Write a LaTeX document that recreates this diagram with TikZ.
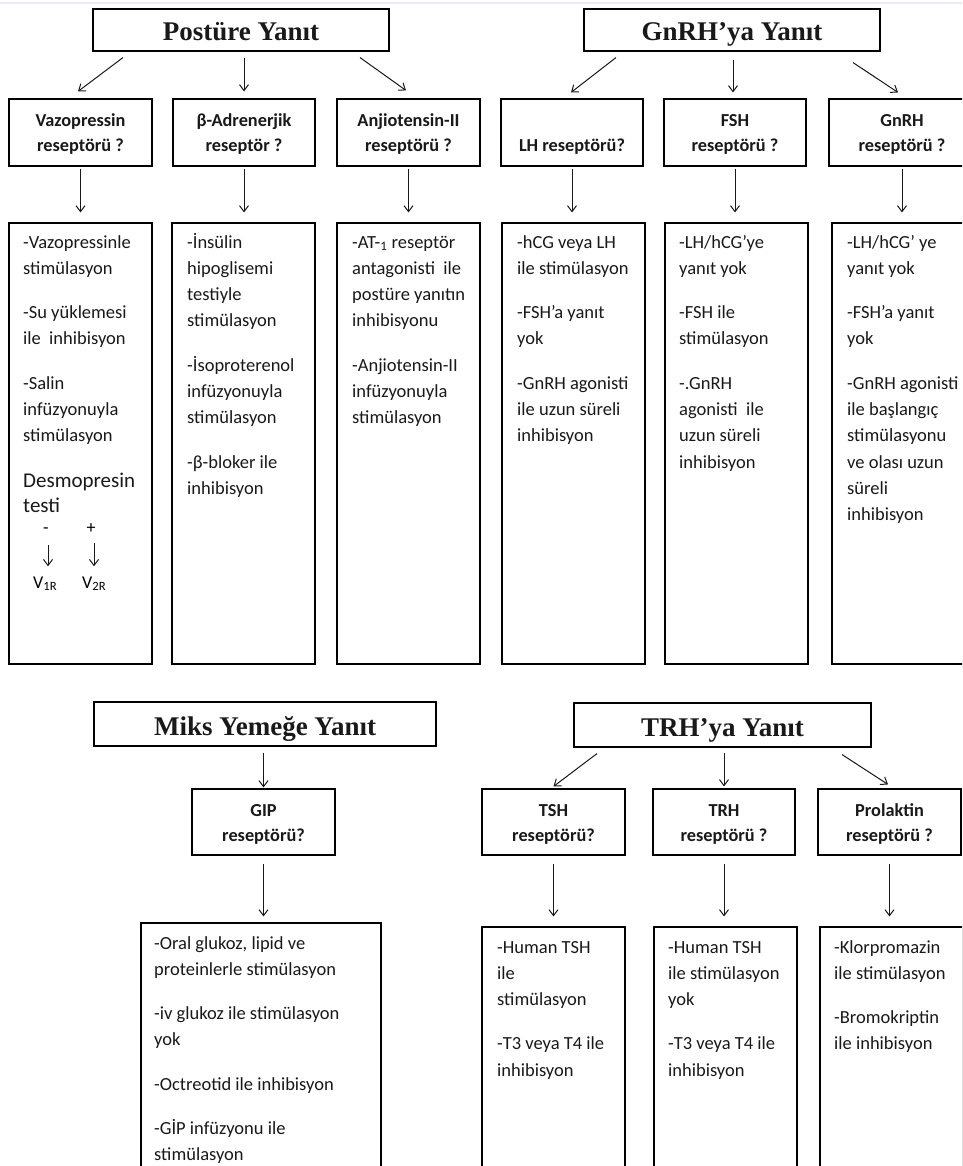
\documentclass[tikz,border=0pt]{standalone}
\usepackage{fontspec}
\setmainfont{Carlito}
\newfontfamily\tnr{Liberation Serif}
\usetikzlibrary{arrows.meta}
\begin{document}
\begin{tikzpicture}[x=1pt,y=-1pt,
  box/.style={draw=black, line width=1.1pt, inner sep=0pt, text=black!90},
  title/.style={box, font=\tnr\bfseries\fontsize{27}{30}\selectfont, text height=22pt, text depth=0pt},
  rec/.style={box, align=center, font=\bfseries\fontsize{18.3}{25}\selectfont, minimum width=143pt, minimum height=67pt},
  recb/.style={rec, minimum height=66pt},
  cbox/.style={box, minimum width=143pt},
  ctext/.style={anchor=base west, inner sep=0pt, text=black!90, font=\fontsize{18.5}{26.3}\selectfont},
  arr/.style={line width=1pt, draw=black!90, -{Straight Barb[length=6pt,width=9pt]}}
]
\useasboundingbox (0,0) rectangle (962,1166);
\clip (0,0) rectangle (962,1166);
\fill[white] (0,0) rectangle (962,1166);
\draw[line width=1.5pt, draw=black!15!blue!8!white] (0,3) -- (962,3);

% titles
\node[title, minimum width=296pt, minimum height=42pt] (post) at (241,30) {Postüre Yanıt};
\node[title, minimum width=296pt, minimum height=42pt] (gnrh) at (732,30) {GnRH’ya Yanıt};
\node[title, minimum width=342pt, minimum height=44pt] (miks) at (265,724) {Miks Yemeğe Yanıt};
\node[title, minimum width=297pt, minimum height=44pt] (trh) at (722.5,725) {TRH’ya Yanıt};

% receptor boxes (top)
\node[rec] (vaz) at (80.5,132.5) {\rule{0pt}{18pt}Vazopressin\\reseptörü ?\rule[-4pt]{0pt}{4pt}};
\node[rec, minimum width=142pt] (beta) at (244,132.5) {\rule{0pt}{18pt}β-Adrenerjik\\reseptör ?\rule[-4pt]{0pt}{4pt}};
\node[rec] (anj) at (408.5,132.5) {\rule{0pt}{18pt}Anjiotensin-II\\reseptörü ?\rule[-4pt]{0pt}{4pt}};
\node[rec, minimum width=142pt] (lh) at (572,132.5) {\rule{0pt}{18pt}\\LH reseptörü?\rule[-4pt]{0pt}{4pt}};
\node[rec, minimum width=142pt] (fsh) at (735,132.5) {\rule{0pt}{18pt}FSH\\reseptörü ?\rule[-4pt]{0pt}{4pt}};
\node[rec, minimum width=146pt] (gnr) at (902,132.5) {\rule{0pt}{18pt}GnRH\\reseptörü ?\rule[-4pt]{0pt}{4pt}};

% receptor boxes (bottom)
\node[recb] (gip) at (263.5,822) {\rule{0pt}{18pt}GIP\\reseptörü?\rule[-4pt]{0pt}{4pt}};
\node[recb] (tsh) at (553.5,822) {\rule{0pt}{18pt}TSH\\reseptörü?\rule[-4pt]{0pt}{4pt}};
\node[recb, minimum width=142pt] (trhr) at (724,822) {\rule{0pt}{18pt}TRH\\reseptörü ?\rule[-4pt]{0pt}{4pt}};
\node[recb] (prl) at (889.5,822) {\rule{0pt}{18pt}Prolaktin\\reseptörü ?\rule[-4pt]{0pt}{4pt}};

% content boxes
\node[cbox, minimum height=441pt] (c1) at (80.5,443.5) {};
\node[cbox, minimum height=441pt] (c2) at (243.5,443.5) {};
\node[cbox, minimum height=441pt] (c3) at (408.5,443.5) {};
\node[cbox, minimum height=441pt] (c4) at (573.5,443.5) {};
\node[cbox, minimum height=441pt] (c5) at (736.5,443.5) {};
\node[cbox, minimum height=441pt] (c6) at (903.5,443.5) {};
\node[cbox, minimum width=240pt, minimum height=267pt] (gipc) at (261,1056.5) {};
\node[cbox, minimum height=263pt] (tshc) at (553.5,1058.5) {};
\node[cbox, minimum height=263pt] (trhc) at (725.5,1058.5) {};
\node[cbox, minimum height=263pt] (prlc) at (891.5,1058.5) {};

% arrows top
\draw[arr] ([xshift=-118pt,yshift=-6pt]post.south) -- ([xshift=-2.5pt,yshift=7pt]vaz.north);
\draw[arr] ([xshift=3pt,yshift=-6pt]post.south) -- ([yshift=7pt]beta.north);
\draw[arr] ([xshift=119pt,yshift=-6pt]post.south) -- ([xshift=-2.5pt,yshift=8pt]anj.north);
\draw[arr] ([xshift=-116pt,yshift=-6pt]gnrh.south) -- ([xshift=-1pt,yshift=6pt]lh.north);
\draw[arr] ([xshift=1pt,yshift=-8pt]gnrh.south) -- ([xshift=-2pt,yshift=6pt]fsh.north);
\draw[arr] ([xshift=121pt,yshift=-11pt]gnrh.south) -- ([xshift=-4pt,yshift=6pt]gnr.north);
\foreach \r/\c in {vaz/c1, beta/c2, anj/c3, lh/c4, fsh/c5, gnr/c6}
  \draw[arr, shorten <=2pt, shorten >=10pt] (\r.south) -- (\r.south |- \c.north);

% arrows bottom
\draw[arr, shorten <=6pt, shorten >=1pt] (miks.south -| gip.north) -- (gip.north);
\draw[arr, shorten <=8pt, shorten >=6pt] (gip.south) -- (gip.south |- gipc.north);
\draw[arr] ([xshift=-125.5pt,yshift=-6pt]trh.south) -- ([yshift=2pt]tsh.north);
\draw[arr, shorten <=5pt, shorten >=2pt] (trh.south -| trhr.north) -- (trhr.north);
\draw[arr] ([xshift=119.5pt,yshift=-7pt]trh.south) -- ([xshift=-1.5pt,yshift=4pt]prl.north);
\foreach \r/\c in {tsh/tshc, trhr/trhc, prl/prlc}
  \draw[arr, shorten <=8pt, shorten >=10pt] (\r.south) -- (\r.south |- \c.north);

% content texts
\node[ctext] (t1) at (23,248) {\parbox[t]{200pt}{\raggedright -Vazopressinle\\stimülasyon\\[18pt]-Su yüklemesi\\ile\ \ inhibisyon\\[18pt]-Salin\\infüzyonuyla\\stimülasyon}};
\node[ctext, font=\fontsize{21}{25}\selectfont] (desm) at (23,487) {\parbox[t]{200pt}{\raggedright Desmopresin\\testi}};
\node[anchor=base, inner sep=0pt, font=\fontsize{18}{20}\selectfont] (minus) at (46,533) {-};
\node[anchor=base, inner sep=0pt, font=\fontsize{18}{20}\selectfont] (plus) at (91,533) {+};
\node[anchor=base west, inner sep=0pt, font=\fontsize{18}{20}\selectfont] (v1) at (33,588) {V\textsubscript{1R}};
\node[anchor=base west, inner sep=0pt, font=\fontsize{18}{20}\selectfont] (v2) at (82,588) {V\textsubscript{2R}};
\draw[arr, shorten <=12pt, shorten >=10pt] ([xshift=2pt]minus.south) -- ([xshift=2pt]minus.south |- v1.north);
\draw[arr, shorten <=10pt, shorten >=10pt] ([xshift=3pt]plus.south) -- ([xshift=3pt]plus.south |- v2.north);

\node[ctext] (t2) at (187,248) {\parbox[t]{200pt}{\raggedright -İnsülin\\hipoglisemi\\testiyle\\stimülasyon\\[18pt]-İsoproterenol\\infüzyonuyla\\stimülasyon\\[18pt]-β-bloker ile\\inhibisyon}};
\node[ctext] (t3) at (352,248) {\parbox[t]{200pt}{\raggedright -AT-\textsubscript{1} reseptör\\antagonisti\ \ ile\\postüre yanıtın\\inhibisyonu\\[18pt]-Anjiotensin-II\\infüzyonuyla\\stimülasyon}};
\node[ctext] (t4) at (517,248) {\parbox[t]{200pt}{\raggedright -hCG veya LH\\ile stimülasyon\\[18pt]-FSH’a yanıt\\yok\\[18pt]-GnRH agonisti\\ile uzun süreli\\inhibisyon}};
\node[ctext] (t5) at (679,248) {\parbox[t]{200pt}{\raggedright -LH/hCG’ye\\yanıt yok\\[18pt]-FSH ile\\stimülasyon\\[18pt]-.GnRH\\agonisti\ \ ile\\uzun süreli\\inhibisyon}};
\node[ctext] (t6) at (847,248) {\parbox[t]{200pt}{\raggedright -LH/hCG’ ye\\yanıt yok\\[18pt]-FSH’a yanıt\\yok\\[18pt]-GnRH agonisti\\ile başlangıç\\stimülasyonu\\ve olası uzun\\süreli\\inhibisyon}};
\node[ctext] (t7) at (154,949) {\parbox[t]{230pt}{\raggedright -Oral glukoz, lipid ve\\proteinlerle stimülasyon\\[18pt]-iv glukoz ile stimülasyon\\yok\\[18pt]-Octreotid ile inhibisyon\\[18pt]-GİP infüzyonu ile\\stimülasyon}};
\node[ctext] (t8) at (497,953) {\parbox[t]{200pt}{\raggedright -Human TSH\\ile\\stimülasyon\\[18pt]-T3 veya T4 ile\\inhibisyon}};
\node[ctext] (t9) at (668,953) {\parbox[t]{200pt}{\raggedright -Human TSH\\ile stimülasyon\\yok\\[18pt]-T3 veya T4 ile\\inhibisyon}};
\node[ctext] (t10) at (834,953) {\parbox[t]{200pt}{\raggedright -Klorpromazin\\ile stimülasyon\\[18pt]-Bromokriptin\\ile inhibisyon}};
\end{tikzpicture}
\end{document}
